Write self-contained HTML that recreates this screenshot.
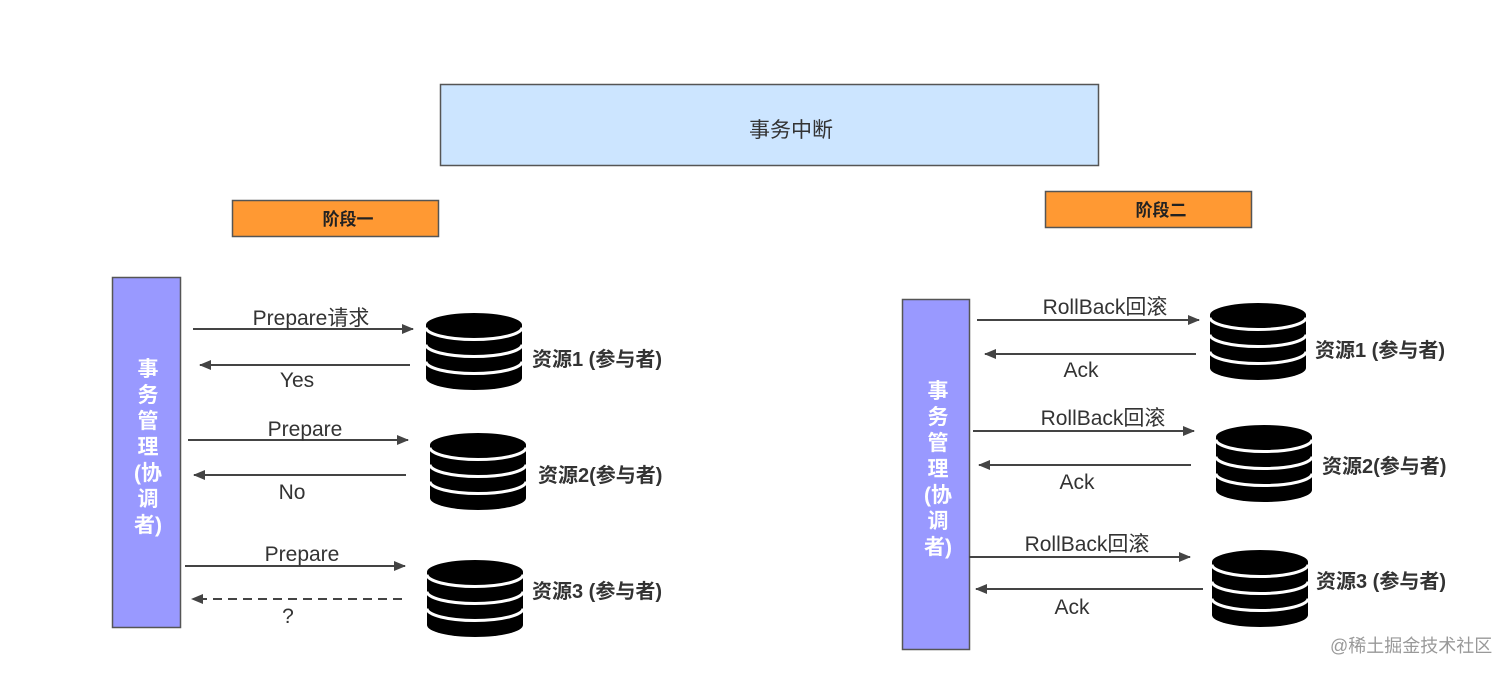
<!DOCTYPE html>
<html><head><meta charset="utf-8"><style>
html,body{margin:0;padding:0;background:#fff;}
svg{display:block;}
text{font-family:"Liberation Sans","Noto Sans CJK SC",sans-serif;}
</style></head><body>
<svg width="1512" height="677" viewBox="0 0 1512 677" xmlns="http://www.w3.org/2000/svg">
<defs>
<marker id="ah" markerWidth="12" markerHeight="10" refX="11" refY="5" orient="auto" markerUnits="userSpaceOnUse">
<path d="M0,0 L12,5 L0,10 Z" fill="#444"/></marker>
<g id="db">
<path d="M0,12 A48,12 0 0 1 96,12 V65 A48,12 0 0 1 0,65 Z" fill="#000"/>
<path d="M0,14.5 A48,12 0 0 0 96,14.5" fill="none" stroke="#fff" stroke-width="3"/>
<path d="M0,31.5 A48,12 0 0 0 96,31.5" fill="none" stroke="#fff" stroke-width="3"/>
<path d="M0,48.5 A48,12 0 0 0 96,48.5" fill="none" stroke="#fff" stroke-width="3"/>
</g>
</defs>

<rect x="440.5" y="84.5" width="658" height="81" fill="#cce5ff" stroke="#555" stroke-width="1.5"/>
<text x="791" y="137" font-size="21" fill="#333" text-anchor="middle">事务中断</text>

<rect x="232.5" y="200.5" width="206" height="36" fill="#ff9933" stroke="#555" stroke-width="1.5"/>
<text x="348" y="225" font-size="17" font-weight="bold" fill="#222" text-anchor="middle">阶段一</text>
<rect x="1045.5" y="191.5" width="206" height="36" fill="#ff9933" stroke="#555" stroke-width="1.5"/>
<text x="1161" y="216" font-size="17" font-weight="bold" fill="#222" text-anchor="middle">阶段二</text>

<rect x="112.5" y="277.5" width="68" height="350" fill="#9999ff" stroke="#555" stroke-width="1.5"/>
<g font-size="21" font-weight="bold" fill="#fff" text-anchor="middle">
<text x="148" y="376">事</text><text x="148" y="402">务</text><text x="148" y="428">管</text><text x="148" y="454">理</text>
<text x="148" y="480">(协</text><text x="148" y="506">调</text><text x="148" y="532">者)</text>
</g>

<g stroke="#444" stroke-width="2" fill="none">
<line x1="193" y1="329" x2="413" y2="329" marker-end="url(#ah)"/>
<line x1="410" y1="365" x2="200" y2="365" marker-end="url(#ah)"/>
<line x1="188" y1="440" x2="408" y2="440" marker-end="url(#ah)"/>
<line x1="406" y1="475" x2="194" y2="475" marker-end="url(#ah)"/>
<line x1="185" y1="566" x2="405" y2="566" marker-end="url(#ah)"/>
<line x1="402" y1="599" x2="192" y2="599" stroke-dasharray="9,6" marker-end="url(#ah)"/>
</g>
<g font-size="21" fill="#333">
<text x="311" y="325" text-anchor="middle">Prepare请求</text>
<text x="297" y="387" text-anchor="middle">Yes</text>
<text x="305" y="436" text-anchor="middle">Prepare</text>
<text x="292" y="499" text-anchor="middle">No</text>
<text x="302" y="561" text-anchor="middle">Prepare</text>
<text x="288" y="623" text-anchor="middle">?</text>
</g>
<use href="#db" x="426" y="313"/>
<use href="#db" x="430" y="433"/>
<use href="#db" x="427" y="560"/>
<g font-size="20" font-weight="bold" fill="#333">
<text x="532" y="366">资源1 (参与者)</text>
<text x="538" y="482">资源2(参与者)</text>
<text x="532" y="598">资源3 (参与者)</text>
</g>

<rect x="902.5" y="299.5" width="67" height="350" fill="#9999ff" stroke="#555" stroke-width="1.5"/>
<g font-size="21" font-weight="bold" fill="#fff" text-anchor="middle">
<text x="938" y="398">事</text><text x="938" y="424">务</text><text x="938" y="450">管</text><text x="938" y="476">理</text>
<text x="938" y="502">(协</text><text x="938" y="528">调</text><text x="938" y="554">者)</text>
</g>
<g stroke="#444" stroke-width="2" fill="none">
<line x1="977" y1="320" x2="1199" y2="320" marker-end="url(#ah)"/>
<line x1="1196" y1="354" x2="985" y2="354" marker-end="url(#ah)"/>
<line x1="973" y1="431" x2="1194" y2="431" marker-end="url(#ah)"/>
<line x1="1191" y1="465" x2="979" y2="465" marker-end="url(#ah)"/>
<line x1="969" y1="557" x2="1190" y2="557" marker-end="url(#ah)"/>
<line x1="1203" y1="589" x2="976" y2="589" marker-end="url(#ah)"/>
</g>
<g font-size="21" fill="#333" text-anchor="middle">
<text x="1105" y="314">RollBack回滚</text>
<text x="1081" y="377">Ack</text>
<text x="1103" y="425">RollBack回滚</text>
<text x="1077" y="489">Ack</text>
<text x="1087" y="551">RollBack回滚</text>
<text x="1072" y="614">Ack</text>
</g>
<use href="#db" x="1210" y="303"/>
<use href="#db" x="1216" y="425"/>
<use href="#db" x="1212" y="550"/>
<g font-size="20" font-weight="bold" fill="#333">
<text x="1315" y="357">资源1 (参与者)</text>
<text x="1322" y="473">资源2(参与者)</text>
<text x="1316" y="588">资源3 (参与者)</text>
</g>
<text x="1330" y="652" font-size="18" fill="#999">@稀土掘金技术社区</text>
</svg>
</body></html>
